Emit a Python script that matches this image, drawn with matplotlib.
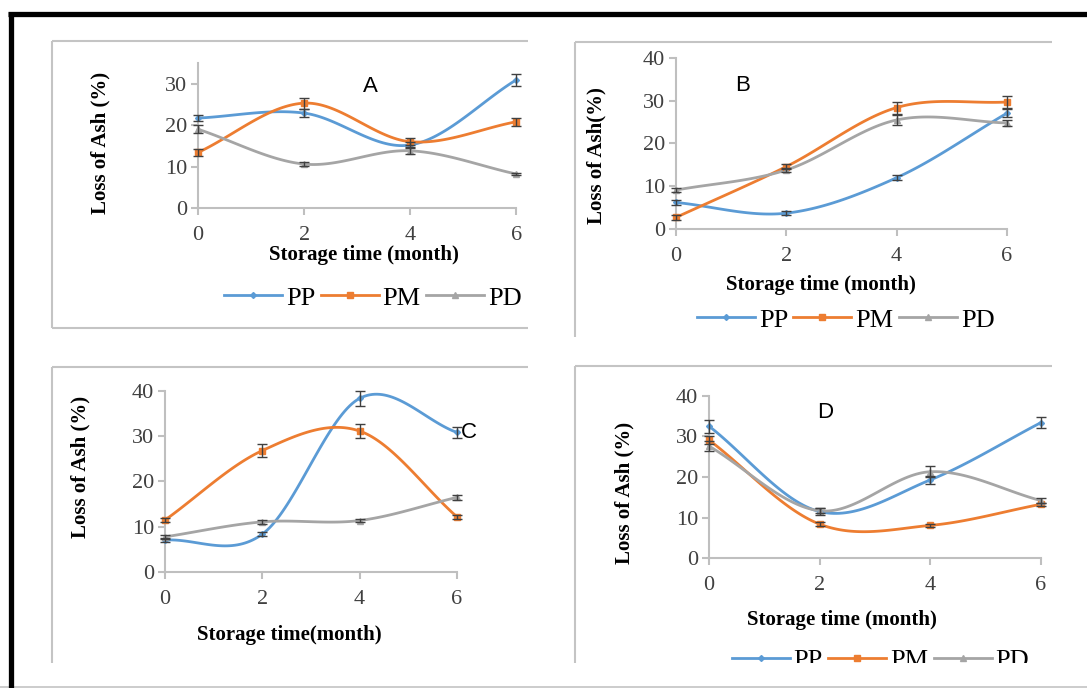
import numpy as np
import matplotlib
matplotlib.use("Agg")
import matplotlib.pyplot as plt
from matplotlib.lines import Line2D

# storage time in months
months = [0, 2, 4, 6]

# panel A
a_pp = [21.7, 22.9, 15.2, 30.9]
a_pm = [13.4, 25.3, 16.0, 20.8]
a_pd = [19.0, 10.6, 13.8, 8.2]
a_pp_err = [0.8, 1.0, 0.7, 1.4]
a_pm_err = [0.8, 1.3, 0.9, 1.0]
a_pd_err = [1.0, 0.5, 0.8, 0.3]

# panel B
b_pp = [6.2, 3.7, 12.0, 27.1]
b_pm = [2.7, 14.6, 28.4, 29.7]
b_pd = [9.1, 13.8, 25.5, 24.8]
b_pp_err = [0.5, 0.4, 0.6, 1.0]
b_pm_err = [0.5, 0.6, 1.4, 1.3]
b_pd_err = [0.5, 0.5, 1.2, 0.8]

# panel C
c_pp = [7.1, 8.4, 38.3, 30.8]
c_pm = [11.5, 26.8, 31.1, 12.2]
c_pd = [7.8, 11.1, 11.4, 16.5]
c_pp_err = [0.4, 0.5, 1.7, 1.2]
c_pm_err = [0.5, 1.4, 1.5, 0.4]
c_pd_err = [0.4, 0.5, 0.4, 0.5]

# panel D
d_pp = [32.5, 11.5, 19.3, 33.4]
d_pm = [29.1, 8.4, 8.1, 13.3]
d_pd = [27.6, 11.7, 21.3, 14.2]
d_pp_err = [1.6, 0.8, 1.0, 1.4]
d_pm_err = [1.0, 0.5, 0.4, 0.4]
d_pd_err = [1.2, 0.6, 1.3, 0.6]

names = ["PP", "PM", "PD"]
colors = ["#5B9BD5", "#ED7D31", "#A5A5A5"]
markers = ["D", "s", "^"]
msizes = [3, 4.5, 4.5]


def smooth(x, y, n=40):
    # catmull-rom curve through the points, like excel's smoothed line
    x = np.asarray(x, float)
    y = np.asarray(y, float)
    px = np.concatenate([[2 * x[0] - x[1]], x, [2 * x[-1] - x[-2]]])
    py = np.concatenate([[2 * y[0] - y[1]], y, [2 * y[-1] - y[-2]]])
    xs, ys = [], []
    t = np.linspace(0, 1, n)
    for i in range(1, len(px) - 2):
        for p, out in ((px, xs), (py, ys)):
            p0, p1, p2, p3 = p[i - 1], p[i], p[i + 1], p[i + 2]
            out.extend(0.5 * ((2 * p1) + (-p0 + p2) * t
                              + (2 * p0 - 5 * p1 + 4 * p2 - p3) * t ** 2
                              + (-p0 + 3 * p1 - 3 * p2 + p3) * t ** 3))
    return np.array(xs), np.array(ys)


serif = "Liberation Serif"
sans = "Liberation Sans"

fig = plt.figure(figsize=(10.87, 6.88), dpi=100)


def panel(rect, series, errs, ymax, letter, letter_pos, ylab, ylab_pos, xlab, xlab_pos):
    ax = fig.add_axes(rect)
    for vals, err, c, m, ms in zip(series, errs, colors, markers, msizes):
        sx, sy = smooth(months, vals)
        ax.plot(sx, sy, color=c, lw=2, zorder=3, clip_on=False)
        ax.plot(months, vals, ls="none", marker=m, ms=ms, color=c, zorder=4, clip_on=False)
        ax.errorbar(months, vals, yerr=err, fmt="none", ecolor="#404040", elinewidth=1,
                    capsize=3.5, capthick=1, zorder=5, clip_on=False)
    ax.set_xlim(0, 6)
    ax.set_ylim(0, ymax)
    ax.set_xticks(months)
    ax.set_yticks(np.arange(0, ymax + 0.1, 10))
    for s in ["top", "right"]:
        ax.spines[s].set_visible(False)
    for s in ["left", "bottom"]:
        ax.spines[s].set_color("#BFBFBF")
        ax.spines[s].set_linewidth(1.5)
    ax.tick_params(length=5, width=1.5, color="#BFBFBF", labelsize=16, labelcolor="#404040", pad=3)
    for lb in ax.get_xticklabels() + ax.get_yticklabels():
        lb.set_fontfamily(serif)
    ax.xaxis.set_tick_params(pad=8)
    ax.text(letter_pos[0], letter_pos[1], letter, transform=ax.transAxes, fontsize=16,
            family=sans, ha="center", va="center")
    ax.text(ylab_pos[0], ylab_pos[1], ylab, transform=ax.transAxes, fontsize=15,
            family=serif, weight="bold", rotation=90, ha="center", va="center")
    ax.text(xlab_pos[0], xlab_pos[1], xlab, transform=ax.transAxes, fontsize=15,
            family=serif, weight="bold", ha="center", va="center")
    return ax


panel([0.1822, 0.6977, 0.2926, 0.2108], [a_pp, a_pm, a_pd], [a_pp_err, a_pm_err, a_pd_err],
      35, "A", (0.541, 0.841), "Loss of Ash (%)", (-0.308, 0.448),
      "Storage time (month)", (0.522, -0.324))
panel([0.6219, 0.6672, 0.3045, 0.2485], [b_pp, b_pm, b_pd], [b_pp_err, b_pm_err, b_pd_err],
      40, "B", (0.202, 0.842), "Loss of Ash(%)", (-0.239, 0.43),
      "Storage time (month)", (0.438, -0.327))
panel([0.1518, 0.1682, 0.2686, 0.264], [c_pp, c_pm, c_pd], [c_pp_err, c_pm_err, c_pd_err],
      40, "C", (1.041, 0.767), "Loss of Ash (%)", (-0.288, 0.58),
      "Storage time(month)", (0.425, -0.345))
panel([0.6523, 0.1885, 0.3054, 0.2363], [d_pp, d_pm, d_pd], [d_pp_err, d_pm_err, d_pd_err],
      40, "D", (0.349, 0.894), "Loss of Ash (%)", (-0.256, 0.40),
      "Storage time (month)", (0.40, -0.38))

# legends under panels A, B and D
handles = [Line2D([], [], color=c, marker=m, ms=ms, lw=2) for c, m, ms in zip(colors, markers, msizes)]
for cx, cy in [(0.343, 0.567), (0.778, 0.535), (0.810, 0.040)]:
    fig.legend(handles, names, loc="center", bbox_to_anchor=(cx, cy), ncol=3, frameon=False,
               prop={"family": serif, "size": 19}, handlelength=2.2, columnspacing=0.2,
               handletextpad=0.15, borderaxespad=0)


def fline(x0, y0, x1, y1, color, lw, z=1):
    # line in pixel coordinates measured from the top left
    W, H = 1087.0, 688.0
    fig.add_artist(Line2D([x0 / W, x1 / W], [1 - y0 / H, 1 - y1 / H], color=color, lw=lw,
                          zorder=z, solid_capstyle="butt"))


# cover the lower part of the last legend
fig.add_artist(plt.Rectangle((580 / 1087, 2 / 688), 507 / 1087, 23 / 688, transform=fig.transFigure,
                             facecolor="white", edgecolor="none", zorder=20))

gray = "#C4C4C4"
# panel boxes
fline(52, 41, 528, 41, gray, 1.5)
fline(52, 41, 52, 328, gray, 1.5)
fline(52, 328, 528, 328, gray, 1.5)
fline(575, 42, 1052, 42, gray, 1.5)
fline(575, 42, 575, 337, gray, 1.5)
fline(52, 367, 528, 367, gray, 1.5)
fline(52, 367, 52, 663, gray, 1.5)
fline(575, 366, 1052, 366, gray, 1.5)
fline(575, 366, 575, 663, gray, 1.5)
fline(0, 687, 1087, 687, gray, 1.2, 21)

# heavy outer frame
fline(8, 14, 1087, 14, "black", 3.8, 22)
fline(10.5, 12, 10.5, 688, "black", 3.8, 22)

fig.savefig("out.png", dpi=100)
